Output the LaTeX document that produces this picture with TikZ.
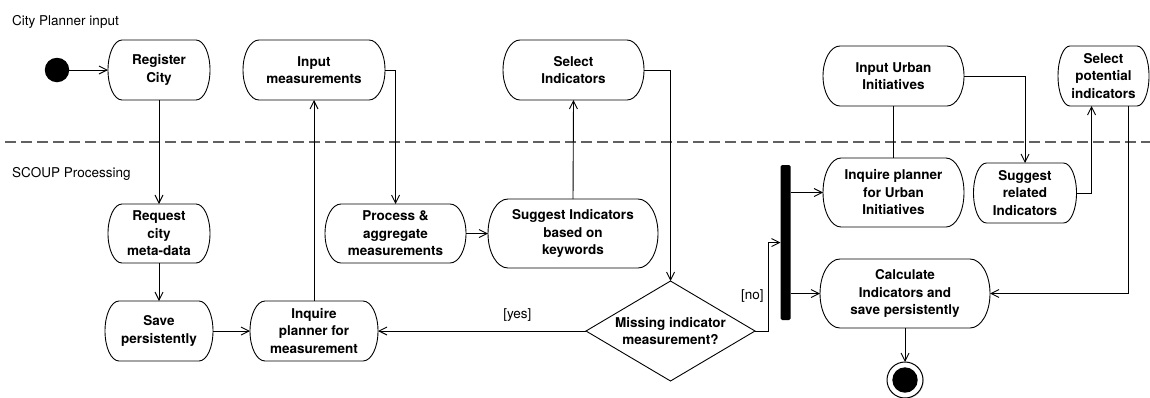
\documentclass[tikz,border=0pt]{standalone}
\usepackage{fontspec}
\setmainfont{TeX Gyre Heros}
\usetikzlibrary{arrows.meta,shapes.geometric,shadows}

\tikzset{
  flow/.style={line width=0.9pt, -{Straight Barb[length=8pt,width=8pt,line width=0.9pt]}},
  plain/.style={line width=0.9pt},
  act/.style={inner sep=0pt, outer sep=0pt, align=center,
    font=\fontsize{13.5}{17.5}\selectfont\bfseries},
  outline/.style={line width=0.9pt},
  lane/.style={font=\fontsize{13.5}{16}\selectfont, anchor=base west, inner sep=0pt},
  guard/.style={font=\fontsize{13.5}{16}\selectfont, inner sep=0pt},
  decision/.style={diamond, aspect=1.69, draw, line width=0.9pt, inner sep=0pt, outer sep=0pt,
    minimum width=169pt, minimum height=100pt, align=center,
    font=\fontsize{13.5}{17.5}\selectfont\bfseries},
  forkbar/.style={fill=black, rounded corners=1.5pt, inner sep=0pt, outer sep=0pt,
    minimum width=10pt, minimum height=155pt},
  startdot/.style={circle, fill=black, inner sep=0pt, minimum size=24.5pt},
  endring/.style={circle, draw, fill=white, line width=1pt, inner sep=0pt, outer sep=0pt,
    minimum size=36pt, drop shadow={shadow xshift=0.8pt, shadow yshift=-0.8pt, opacity=0.35}},
  enddot/.style={circle, fill=black, inner sep=0pt, minimum size=25.4pt},
  swimline/.style={line width=1.4pt, black!62, dash pattern=on 11pt off 5pt},
}

% action node: name, centre x, centre y, width, height, side bulge, label
\newcommand\actbox[7]{%
  \node[act, minimum width=#4pt, minimum height=#5pt] (#1) at (#2,#3) {#7};
  \draw[outline] ([xshift=#6pt]#1.north west) -- ([xshift=-#6pt]#1.north east)
    arc[start angle=270, end angle=450, x radius=#6, y radius=#5/2]
    -- ([xshift=#6pt]#1.south west)
    arc[start angle=90, end angle=270, x radius=#6, y radius=#5/2] -- cycle;
}

\begin{document}
\begin{tikzpicture}[x=1pt, y=-1pt]
\useasboundingbox (0,0) rectangle (1150,397);

% swimlane separator and lane titles
\coordinate (sepL) at (5,142);
\coordinate (sepR) at (1150,142);
\draw[swimline] (sepL) -- (sepR);
\node[lane] (laneA) at (12,25) {City Planner input};
\node[lane] (laneB) at (12,177) {SCOUP Processing};

% actions
\actbox{reg}{159}{70}{102}{60}{14}{Register\\City}
\actbox{inm}{314}{70}{142}{60}{16}{Input\\measurements}
\actbox{sel}{573.5}{70}{141}{60}{17}{Select\\Indicators}
\actbox{inu}{893.5}{76}{141}{60}{17}{Input Urban\\Initiatives}
\actbox{selp}{1103.5}{76}{91}{60}{12}{Select\\potential\\indicators}
\actbox{req}{159}{233.5}{102}{59}{14}{Request\\city\\meta-data}
\actbox{save}{159}{331}{108}{60}{14}{Save\\persistently}
\actbox{inq}{314}{331}{128}{60}{15}{Inquire\\planner for\\measurement}
\actbox{proc}{395.5}{233.5}{141}{59}{16}{Process \&\\aggregate\\measurements}
\actbox{sug}{573}{233.5}{170}{69}{20}{Suggest Indicators\\based on\\keywords}
\actbox{inqu}{893.5}{192.5}{141}{69}{18}{Inquire planner\\for Urban\\Initiatives}
\actbox{sugr}{1025}{193}{103}{60}{13}{Suggest\\related\\Indicators}
\actbox{calc}{905}{293.5}{170}{69}{20}{Calculate\\Indicators and\\save persistently}

% control nodes
\node[startdot] (start) at (57,70) {};
\node[decision] (dia) at (670.5,331) {Missing indicator\\measurement?};
\node[forkbar] (bar) at (785.5,242.5) {};
\node[endring] (end) at (905,380) {};
\node[enddot] (endcore) at (end) {};

% flows
\draw[flow] (start) -- (reg.west);
\draw[flow] (reg.south) -- (req.north);
\draw[flow] (req.south) -- (save.north);
\draw[flow] (save.east) -- (inq.west);
\draw[flow] (inq.north) -- (inm.south);
\draw[flow] (inm.east) -| (proc.north);
\draw[flow] (proc.east) -- (sug.west);
\draw[flow] (sug.north) -- (sel.south);
\draw[flow] (sel.east) -| (dia.north);
\draw[flow] (dia.west) -- node[guard, pos=0.33, above=9pt] (yes) {[yes]} (inq.east);
\draw[flow] (dia.east) -- ++(13,0) |- node[guard, pos=0.2, left=4pt] (no) {[no]} (bar.west);
\draw[flow] (bar.east |- inqu.west) -- (inqu.west);
\draw[flow] (bar.east |- calc.west) -- (calc.west);
\draw[plain] (inu.south) -- (inqu.north);
\draw[flow] (inu.east) -| (sugr.north);
\draw[flow] (sugr.east) -| ([xshift=-12pt]selp.south);
\draw[flow] ([xshift=24.5pt]selp.south) |- (calc.east);
\draw[flow] (calc.south) -- (end.north);
\end{tikzpicture}
\end{document}
